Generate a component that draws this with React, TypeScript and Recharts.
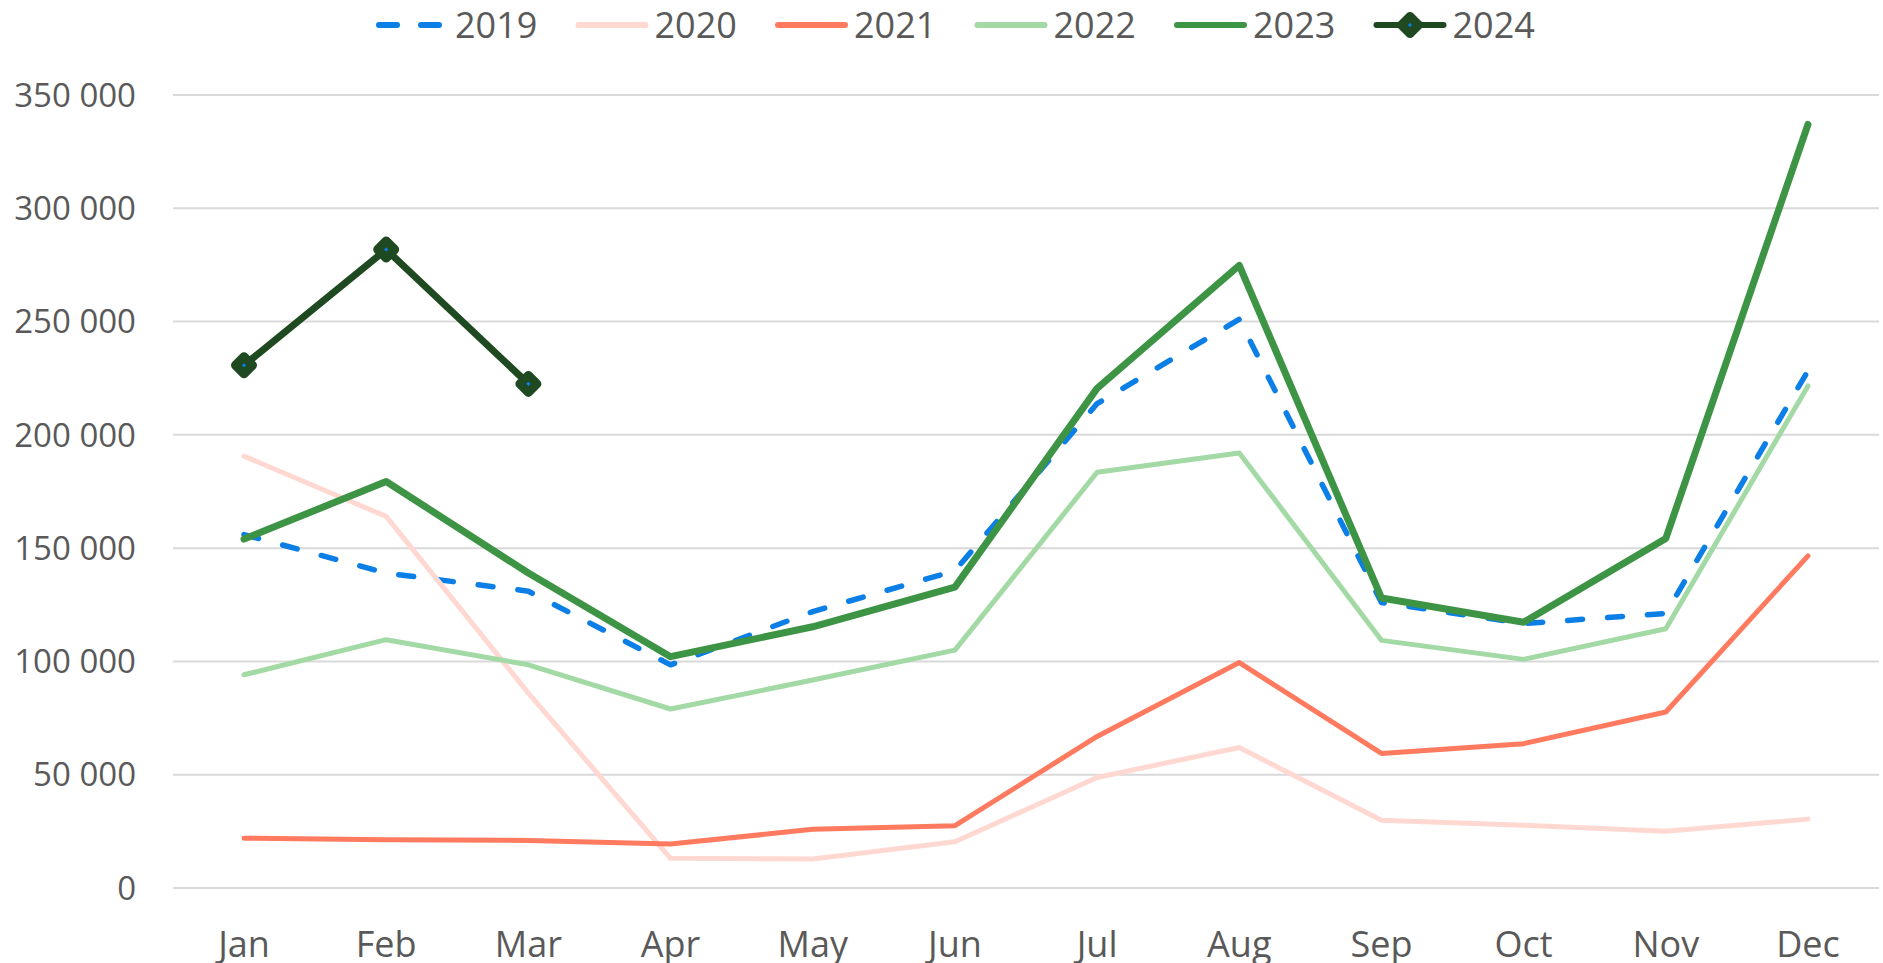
import React from 'react';
import { LineChart, Line, XAxis, YAxis, CartesianGrid } from 'recharts';

const months = ['Jan', 'Feb', 'Mar', 'Apr', 'May', 'Jun', 'Jul', 'Aug', 'Sep', 'Oct', 'Nov', 'Dec'];
const s2019 = [156000, 139000, 131000, 98500, 122000, 140000, 213800, 251000, 126000, 116700, 121200, 228300];
const s2020 = [190600, 164000, 86000, 13100, 12800, 20400, 48800, 62000, 29900, 27700, 25000, 30400];
const s2021 = [22000, 21300, 21000, 19400, 25900, 27500, 66900, 99500, 59400, 63700, 77700, 146600];
const s2022 = [94100, 109600, 98500, 79000, 91800, 105000, 183500, 192000, 109300, 100900, 114400, 221600];
const s2023 = [154000, 179400, 139000, 102100, 115300, 132800, 220500, 274800, 128000, 117300, 154300, 337000];
const s2024 = [230700, 281800, 222500, null, null, null, null, null, null, null, null, null];
const seriesNames = ['2019', '2020', '2021', '2022', '2023', '2024'];
const yTicks = [0, 50000, 100000, 150000, 200000, 250000, 300000, 350000];

const data = months.map((m, i) => ({
  month: m,
  y2019: s2019[i],
  y2020: s2020[i],
  y2021: s2021[i],
  y2022: s2022[i],
  y2023: s2023[i],
  y2024: s2024[i],
}));

const FONT = '"Open Sans", "Noto Sans", sans-serif';
const TEXT = '#595959';
const C2019 = '#0B7FE6';
const C2020 = '#FFD8D2';
const C2021 = '#FF7A5F';
const C2022 = '#A3D9A5';
const C2023 = '#3E9445';
const C2024 = '#1F4A21';
const colors = [C2019, C2020, C2021, C2022, C2023, C2024];
const widths = [5.5, 5, 5, 5, 7, 7];

const fmt = (v: number) => {
  const s = String(Math.round(v));
  return s.replace(/\B(?=(\d{3})+(?!\d))/g, ' ');
};

const diamondPath = (cx: number, cy: number, r: number) =>
  `M${cx},${cy - r} L${cx + r},${cy} L${cx},${cy + r} L${cx - r},${cy} Z`;

const Diamond = (props: any) => {
  const { cx, cy, index } = props;
  if (cx == null || cy == null || props.value == null) return <g key={`d-${index}`} />;
  return (
    <path
      key={`d-${index}`}
      d={diamondPath(cx, cy, 8.5)}
      fill={C2019}
      stroke={C2024}
      strokeWidth={9}
      strokeLinejoin="round"
    />
  );
};

const LegendOverlay = () => {
  const x0 = 377;
  const step = 199.5;
  const cy = 25;
  return (
    <svg width={1883} height={50} style={{ position: 'absolute', left: 0, top: 0 }}>
      {seriesNames.map((name, i) => {
        const x = x0 + i * step;
        return (
          <g key={name}>
            {i === 0 ? (
              <line x1={x + 2} y1={cy} x2={x + 69} y2={cy} stroke={colors[i]} strokeWidth={6}
                strokeDasharray="18 24" strokeLinecap="round" />
            ) : (
              <line x1={x + 2} y1={cy} x2={x + 69} y2={cy} stroke={colors[i]} strokeWidth={6}
                strokeLinecap="round" />
            )}
            {i === 5 && (
              <path d={diamondPath(x + 35.5, cy, 8.5)} fill={C2019} stroke={C2024} strokeWidth={9}
                strokeLinejoin="round" />
            )}
            <text x={x + 78} y={cy + 13} fontFamily={FONT} fontSize={36} fill={TEXT}>{name}</text>
          </g>
        );
      })}
    </svg>
  );
};

export default function App() {
  return (
    <div style={{ position: 'absolute', left: 0, top: 0, width: 1883, height: 963, background: '#fff' }}>
      <LineChart
        width={1883}
        height={963}
        data={data}
        margin={{ top: 95, right: 4, bottom: 0, left: 0 }}
      >
        <CartesianGrid vertical={false} stroke="#D9D9D9" strokeWidth={2} />
        <XAxis
          dataKey="month"
          height={75}
          axisLine={false}
          tickLine={false}
          tickSize={0}
          tickMargin={43}
          padding={{ left: 71, right: 71 }}
          interval={0}
          tick={{ fill: TEXT, fontSize: 36, fontFamily: FONT }}
        />
        <YAxis
          width={173}
          domain={[0, 350000]}
          ticks={yTicks}
          axisLine={false}
          tickLine={false}
          tickSize={0}
          tickMargin={37}
          tickFormatter={fmt}
          tick={{ fill: TEXT, fontSize: 33, fontFamily: FONT }}
        />
        <Line type="linear" dataKey="y2019" stroke={C2019} strokeWidth={widths[0]} strokeDasharray="15 25"
          strokeLinecap="round" strokeLinejoin="round" dot={false} activeDot={false} isAnimationActive={false} />
        <Line type="linear" dataKey="y2020" stroke={C2020} strokeWidth={widths[1]}
          strokeLinecap="round" strokeLinejoin="round" dot={false} activeDot={false} isAnimationActive={false} />
        <Line type="linear" dataKey="y2021" stroke={C2021} strokeWidth={widths[2]}
          strokeLinecap="round" strokeLinejoin="round" dot={false} activeDot={false} isAnimationActive={false} />
        <Line type="linear" dataKey="y2022" stroke={C2022} strokeWidth={widths[3]}
          strokeLinecap="round" strokeLinejoin="round" dot={false} activeDot={false} isAnimationActive={false} />
        <Line type="linear" dataKey="y2023" stroke={C2023} strokeWidth={widths[4]}
          strokeLinecap="round" strokeLinejoin="round" dot={false} activeDot={false} isAnimationActive={false} />
        <Line type="linear" dataKey="y2024" stroke={C2024} strokeWidth={widths[5]}
          strokeLinecap="round" strokeLinejoin="round" dot={Diamond} activeDot={false} isAnimationActive={false} />
      </LineChart>
      <LegendOverlay />
    </div>
  );
}
